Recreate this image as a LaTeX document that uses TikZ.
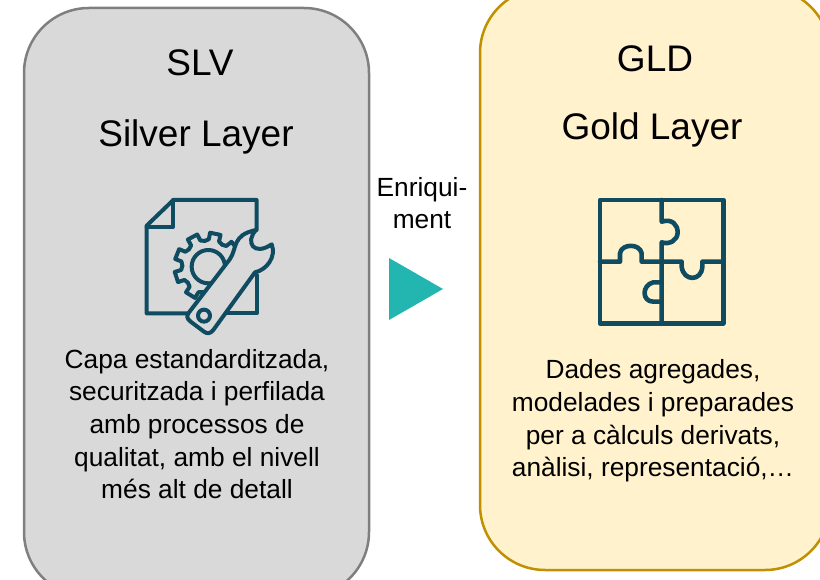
\documentclass[tikz,border=0pt]{standalone}
\usepackage{fontspec}
\setmainfont{Liberation Sans}
\definecolor{silverfill}{HTML}{D9D9D9}
\definecolor{silverline}{HTML}{7F7F7F}
\definecolor{goldfill}{HTML}{FFF2CC}
\definecolor{goldline}{HTML}{BF9000}
\definecolor{iconteal}{HTML}{0F4C62}
\definecolor{arrowteal}{HTML}{23B5AF}
\tikzset{
  layerbox/.style={draw, line width=2.5pt, rounded corners=65pt, inner sep=0pt},
  titletext/.style={font=\fontsize{37}{44}\selectfont},
  bodytext/.style={font=\fontsize{26.3}{32.6}\selectfont, align=center},
  iconline/.style={draw=iconteal, line width=4pt, line join=round, line cap=round},
}
\begin{document}
\begin{tikzpicture}[x=1pt,y=-1pt]
\path[use as bounding box, clip] (0,0) rectangle (820,580);
% boxes
\node[layerbox, fill=silverfill, draw=silverline, minimum width=345pt, minimum height=589pt] (silverbox) at (196.5,302.5) {};
\node[layerbox, fill=goldfill, draw=goldline, minimum width=350pt, minimum height=582pt] (goldbox) at (655,279) {};
% silver text
\node[titletext] (slvname) at (200,63) {SLV};
\node[titletext] (slvtitle) at (196,137) {Silver Layer};
\node[bodytext] (slvbody) at (197,424) {Capa estandarditzada,\\securitzada i perfilada\\amb processos de\\qualitat, amb el nivell\\més alt de detall};
% gold text
\node[titletext] (gldname) at (655,59) {GLD};
\node[titletext] (gldtitle) at (652,130) {Gold Layer};
\node[bodytext] (gldbody) at (653,421) {Dades agregades,\\modelades i preparades\\per a càlculs derivats,\\anàlisi, representació,…};
% arrow
\node[bodytext] (enrich) at (422,203) {Enriqui-\\ment};
\fill[arrowteal] (389,258) -- (443,289) -- (389,320) -- cycle;
% page, gear, wrench
\begin{scope}[shift={(130,185)}, x=0.3333pt, y=-0.3333pt]
  \draw[iconline] (380,135) -- (380,45) -- (130,45) -- (50,122) -- (50,385) -- (180,385);
  \draw[iconline] (130,45) -- (130,125) -- (50,125);
  \draw[iconline] (380,270) -- (380,385) -- (285,385);
  \begin{scope}[shift={(235,245)}]
    \draw[iconline] (0,0) circle (50);
    \foreach \a in {-78,-118,-158,-198,-238,-278,-38,-2,-318}
      \draw[iconline] (\a-20:78) -- (\a-11:82) -- (\a-9:102) -- (\a+9:102) -- (\a+11:82) -- (\a+20:78);
  \end{scope}
  \filldraw[iconline, fill=silverfill] (175,385) -- (300,222) .. controls (322,190) and (305,150) .. (378,135)
    .. controls (345,170) and (370,215) .. (425,178) .. controls (440,215) and (410,255) .. (375,262)
    -- (250,435) .. controls (240,447) and (232,447) .. (222,440) -- (182,410) .. controls (170,400) and (170,395) .. (175,385) -- cycle;
  \draw[iconline] (222,392) circle (18);
\end{scope}
% puzzle
\begin{scope}[shift={(585,185)}, x=0.3333pt, y=-0.3333pt, every path/.append style={line width=4.6pt}]
  \draw[iconline, line width=4.6pt] (45,45) rectangle (415,415);
  \draw[iconline, line width=4.6pt] (230,45) -- (230,110) .. controls (262,100) and (278,120) .. (278,142) .. controls (278,165) and (255,180) .. (230,172) -- (230,415);
  \draw[iconline, line width=4.6pt] (45,230) -- (105,230) -- (105,205) .. controls (110,175) and (165,175) .. (170,205) -- (170,230) -- (290,230) -- (290,245) .. controls (295,290) and (350,290) .. (352,245) -- (352,230) -- (415,230);
  \draw[iconline, line width=4.6pt] (230,292) -- (205,292) .. controls (170,300) and (170,350) .. (205,350) -- (230,350);
\end{scope}
\end{tikzpicture}
\end{document}
